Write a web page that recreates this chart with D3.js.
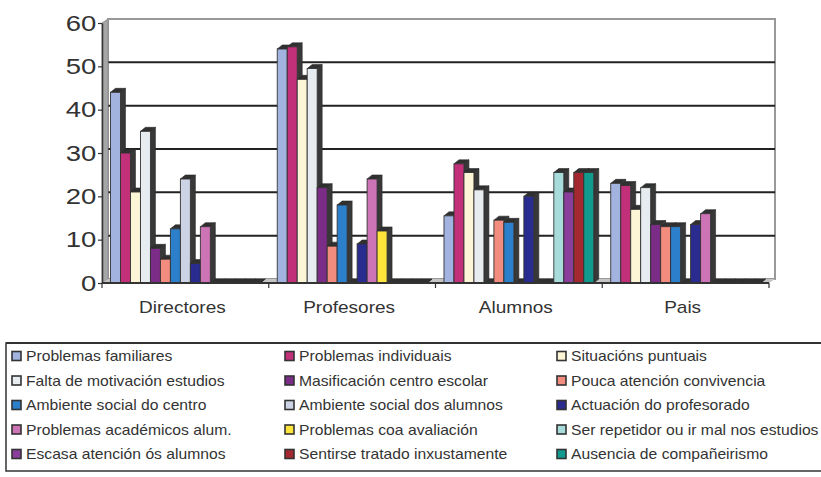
<!DOCTYPE html>
<html><head><meta charset="utf-8">
<script src="https://cdn.jsdelivr.net/npm/d3@7/dist/d3.min.js"></script>
<style>body{margin:0;background:#fff}svg{display:block}text{font-family:"Liberation Sans",Arial,sans-serif;fill:#333}</style>
</head><body><svg id="c" width="821" height="477"></svg>
<script>
const categories = ["Directores","Profesores","Alumnos","Pais"];
const seriesNames = ["Problemas familiares","Problemas individuais","Situacións puntuais",
 "Falta de motivación estudios","Masificación centro escolar","Pouca atención convivencia",
 "Ambiente social do centro","Ambiente social dos alumnos","Actuación do profesorado",
 "Problemas académicos alum.","Problemas coa avaliación","Ser repetidor ou ir mal nos estudios",
 "Escasa atención ós alumnos","Sentirse tratado inxustamente","Ausencia de compañeirismo"];
const seriesColors = ["#A2B3DF","#C2307A","#FDF6D6","#E6ECF0","#7B2C86","#F28C7E",
 "#2C7FCB","#CBD3E4","#2A2B8F","#CC74B6","#FFE43A","#A8DCDA","#8B3D9C","#A42830","#119A8E"];
const directores = [44, 30, 21, 35, 8, 5.5, 12.5, 24, 4.5, 13, 0, 0, 0, 0, 0];
const profesores = [54, 54.5, 47, 49.5, 22, 8.5, 18, 0, 9, 24, 12, 0, 0, 0, 0];
const alumnos    = [15.5, 27.5, 25.5, 21.5, 0, 14.5, 14, 0, 20, 0, 0, 25.5, 21, 25.5, 25.5];
const pais       = [23, 22.5, 17, 22, 13.5, 13, 13, 0, 13.5, 16, 0, 0, 0, 0, 0];
const yTicks = [0,10,20,30,40,50,60];

const valuesByCat = [directores, profesores, alumnos, pais];
const svg = d3.select("#c");
const x0 = d3.scaleBand().domain(categories).range([102, 769]).padding(0);
const x1 = d3.scaleBand().domain(seriesNames).range([0, x0.bandwidth()]).paddingInner(0).paddingOuter(0.85).align(0.5);
const y = d3.scaleLinear().domain([0,60]).range([283, 23]);
const wdx = 6, wdy = -4, bdx = 5, bdy = -4;
const xL = 102, xR = 769;

// back wall
svg.append("rect").attr("x", xL+wdx).attr("y", y(60)+wdy).attr("width", xR-xL).attr("height", y(0)-y(60))
  .attr("fill","#fff").attr("stroke","#999").attr("stroke-width",2);
// gridlines
svg.append("g").selectAll("line").data(yTicks.filter(d=>d>0 && d<60)).join("line")
  .attr("x1", xL+wdx).attr("x2", xR+wdx).attr("y1", d=>y(d)+wdy).attr("y2", d=>y(d)+wdy)
  .attr("stroke","#222").attr("stroke-width",2);
// side wall
svg.append("polygon").attr("points", [[xL,y(0)],[xL,y(60)],[xL+wdx,y(60)+wdy],[xL+wdx,y(0)+wdy]].join(" "))
  .attr("fill","#a6a6a6").attr("stroke","#888").attr("stroke-width",0.8);
// floor
svg.append("polygon").attr("points", [[xL,y(0)],[xR,y(0)],[xR+wdx,y(0)+wdy],[xL+wdx,y(0)+wdy]].join(" "))
  .attr("fill","#c4c4c4");

// bars
const gb = svg.append("g");
valuesByCat.forEach((vals, ci) => {
  vals.forEach((v, si) => {
    const xa = x0(categories[ci]) + x1(seriesNames[si]);
    const xb = xa + x1.bandwidth();
    const yt = y(v), yb = y(0);
    const g = gb.append("g");
    g.append("polygon").attr("points", [[xb,yt],[xb+bdx,yt+bdy],[xb+bdx,yb+bdy],[xb,yb]].join(" "))
      .attr("fill","#383838").attr("stroke","#2a2a2a").attr("stroke-width",0.6);
    g.append("polygon").attr("points", [[xa,yt],[xa+bdx,yt+bdy],[xb+bdx,yt+bdy],[xb,yt]].join(" "))
      .attr("fill","#303030").attr("stroke","#2a2a2a").attr("stroke-width",0.6);
    if (v > 0) g.append("rect").attr("x", xa).attr("y", yt).attr("width", xb-xa).attr("height", yb-yt)
      .attr("fill", seriesColors[si]).attr("stroke","#333").attr("stroke-width",0.9);
  });
});

// y axis
const ya = svg.append("g").attr("transform",`translate(${xL},0)`)
  .call(d3.axisLeft(y).tickValues(yTicks).tickSize(4).tickSizeOuter(0));
ya.select(".domain").attr("stroke","#333").attr("stroke-width",1.5);
ya.selectAll(".tick line").attr("stroke","#333").attr("stroke-width",1.2);
ya.selectAll(".tick text").attr("x",-4.5).attr("font-size",22).attr("font-family","Liberation Sans, Arial, sans-serif")
  .attr("fill","#333").attr("transform","scale(1.25,1)");

// x axis
svg.append("line").attr("x1",xL).attr("x2",xR).attr("y1",y(0)).attr("y2",y(0)).attr("stroke","#333").attr("stroke-width",1.8);
const bounds = categories.map(c=>x0(c)).concat([x0(categories[categories.length-1])+x0.bandwidth()]);
svg.append("g").selectAll("line").data(bounds).join("line")
  .attr("x1",d=>d).attr("x2",d=>d).attr("y1",y(0)).attr("y2",y(0)+5).attr("stroke","#333").attr("stroke-width",1.2);
svg.append("g").selectAll("text").data(categories).join("text")
  .attr("transform", d=>`translate(${x0(d)+x0.bandwidth()/2-3},313) scale(1.12,1)`)
  .attr("text-anchor","middle").attr("font-size",17).text(d=>d);

// legend
svg.append("rect").attr("x",6).attr("y",343).attr("width",840).attr("height",128)
  .attr("fill","#fff").attr("stroke","#333").attr("stroke-width",1.5);
svg.append("line").attr("x1",6).attr("x2",821).attr("y1",343).attr("y2",343).attr("stroke","#333").attr("stroke-width",2.2);
const colX = [12, 285, 557];
const rowY = [356, 380.5, 405, 429.5, 454];
const lg = svg.append("g").selectAll("g").data(seriesNames).join("g")
  .attr("transform",(d,i)=>`translate(${colX[i%3]},${rowY[Math.floor(i/3)]})`);
lg.append("rect").attr("x",0).attr("y",-4.5).attr("width",9).attr("height",9)
  .attr("fill",(d,i)=>seriesColors[i]).attr("stroke","#333").attr("stroke-width",1.6);
lg.append("text").attr("transform","translate(14,0) scale(1.12,1)").attr("dy","0.36em")
  .attr("font-size",14).text(d=>d);
</script></body></html>
